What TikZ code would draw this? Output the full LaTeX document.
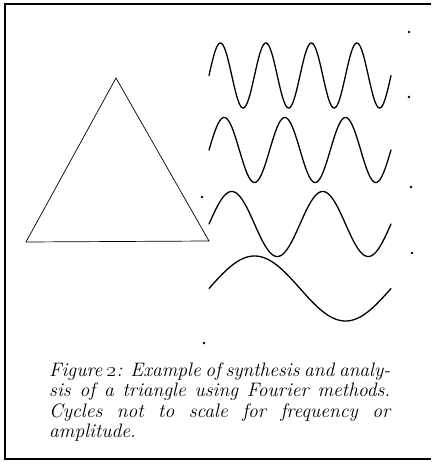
\documentclass[tikz,border=0pt]{standalone}
\usepackage{tikz}
\usetikzlibrary{positioning}

\tikzset{
    frameline/.style={black, line width=1.4pt},
    triline/.style={black, line width=0.7pt, line join=miter},
    waveline/.style={black, line width=1.3pt, line cap=round},
    speck/.style={circle, fill=black, inner sep=0pt, minimum size=2.6pt}
}

\begin{document}
\begin{tikzpicture}[x=1pt, y=-1pt]
    \useasboundingbox (0,0) rectangle (431,462);
    % Frame (open on the right)
    \draw[frameline] (431,4) -- (5,4) -- (5,459) -- (431,459);

    % Triangle
    \coordinate (tl) at (26,242);
    \coordinate (tt) at (116,78);
    \coordinate (tr) at (209,241);
    \draw[triline] (tl) -- (tt) -- (tr) -- cycle;

    % Fourier components: cycles / centre line
    \foreach \n/\yc in {4/75.5, 3/150, 2/224, 1/288.5} {
        \draw[waveline, domain=0:182, samples=240, smooth]
            plot ({209+\x}, {\yc-32.5*sin(\n*\x/182*360)});
    }

    % Stray specks
    \node[speck] (s1) at (409,32) {};
    \node[speck] (s2) at (409,97) {};
    \node[speck] (s3) at (411,187) {};
    \node[speck] (s4) at (202,197) {};
    \node[speck] (s5) at (412,253) {};
    \node[speck] (s6) at (204,343) {};

    \node[anchor=north west, inner sep=0pt, text width=341pt, align=justify,
          font=\fontsize{19.5}{20.3}\selectfont\itshape] (cap) at (49,362.5)
        {Figure \oldstylenums{2}: Example of synthesis and analy-\linebreak
         sis of a triangle using Fourier methods.\linebreak
         Cycles not to scale for frequency or\linebreak
         amplitude.};
\end{tikzpicture}
\end{document}
